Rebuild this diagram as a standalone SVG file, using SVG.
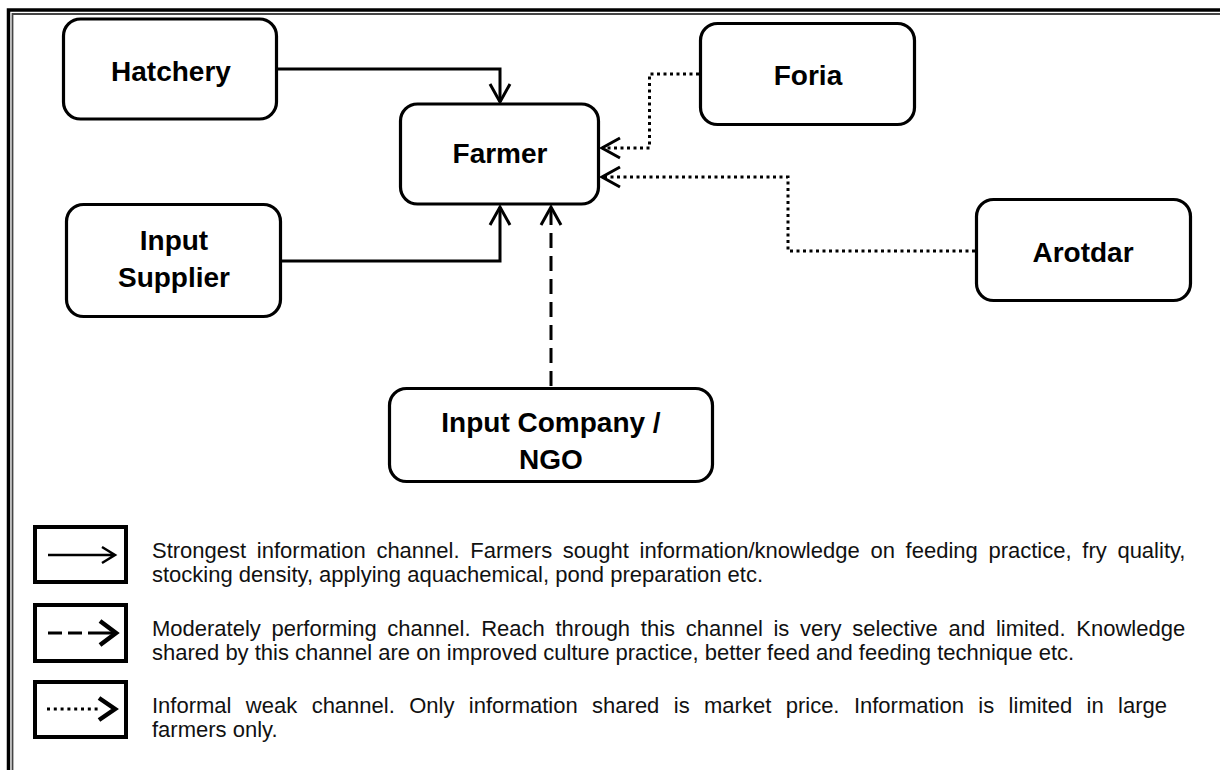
<svg xmlns="http://www.w3.org/2000/svg" width="1220" height="770" viewBox="0 0 1220 770">
<style>
.node{fill:#fff;stroke:#000;stroke-width:3.2}
.lbl{font-family:"Liberation Sans",Arial,sans-serif;font-weight:bold;font-size:28px;fill:#000;text-anchor:middle}
.conn{fill:none;stroke:#000;stroke-width:3}
.solid{marker-end:url(#arr)}
.dash{stroke-dasharray:15 8;marker-end:url(#arr)}
.dot{stroke-dasharray:3 3.5;marker-end:url(#arr)}
.lgbox{fill:#fff;stroke:#000;stroke-width:4}
.lgtxt{font-family:"Liberation Sans",Arial,sans-serif;font-size:22px;fill:#111}
</style>
<defs>
<marker id="arr" viewBox="-22 -13 26 26" refX="0" refY="0" markerWidth="26" markerHeight="26" orient="auto" markerUnits="userSpaceOnUse">
<path d="M-18,-10 L0,0 L-18,10" fill="none" stroke="#000" stroke-width="3"/>
</marker>
</defs>
<rect width="1220" height="770" fill="#fff"/>
<g id="frame">
<path d="M8.5,770 V10 H1220" fill="none" stroke="#000" stroke-width="3.5"/>
<path d="M12.5,770 V14 H1220" fill="none" stroke="#444" stroke-width="1.8"/>
</g>
<g id="connectors">
<path class="conn solid" d="M277,69 H500 V102"/>
<path class="conn solid" d="M281,261 H500 V207"/>
<path class="conn dash" d="M551,386 V207"/>
<path class="conn dot" d="M699,74 H649.5 V148 H602"/>
<path class="conn dot" d="M975,251 H788 V177 H602"/>
</g>
<g id="hatchery">
<rect class="node" x="63.5" y="19" width="213" height="100" rx="17"/>
<text class="lbl" x="171" y="81">Hatchery</text>
</g>
<g id="farmer">
<rect class="node" x="400.5" y="104" width="198" height="100" rx="17"/>
<text class="lbl" x="500" y="163">Farmer</text>
</g>
<g id="foria">
<rect class="node" x="700.5" y="23.5" width="214" height="101" rx="17"/>
<text class="lbl" x="808" y="85">Foria</text>
</g>
<g id="arotdar">
<rect class="node" x="976.5" y="199.5" width="214" height="101" rx="17"/>
<text class="lbl" x="1083" y="262">Arotdar</text>
</g>
<g id="input-supplier">
<rect class="node" x="66.5" y="204.5" width="214" height="112" rx="17"/>
<text class="lbl" x="174" y="250">Input</text>
<text class="lbl" x="174" y="287">Supplier</text>
</g>
<g id="input-company">
<rect class="node" x="389.5" y="388.5" width="323" height="93" rx="17"/>
<text class="lbl" x="551" y="432">Input Company /</text>
<text class="lbl" x="551" y="469">NGO</text>
</g>
<g id="legend">
<rect class="lgbox" x="35" y="527" width="91" height="55"/>
<path d="M48,555 H115 M102,547 L115,555 L102,563" fill="none" stroke="#000" stroke-width="2.5"/>
<rect class="lgbox" x="35" y="605" width="91" height="56"/>
<path d="M48,633 H62 M68,633 H82 M88,633 H114" fill="none" stroke="#000" stroke-width="3"/>
<path d="M100,621 L116,633 L100,645" fill="none" stroke="#000" stroke-width="4.5"/>
<rect class="lgbox" x="35" y="682" width="91" height="55"/>
<path d="M47,709 H100" fill="none" stroke="#000" stroke-width="3" stroke-dasharray="3 3.8"/>
<path d="M99,698 L115,709 L99,720" fill="none" stroke="#000" stroke-width="4.5"/>
<text class="lgtxt" x="152" y="558" word-spacing="4.58">Strongest information channel. Farmers sought information/knowledge on feeding practice, fry quality,</text>
<text class="lgtxt" x="152" y="582">stocking density, applying aquachemical, pond preparation etc.</text>
<text class="lgtxt" x="152" y="636" word-spacing="4.57">Moderately performing channel. Reach through this channel is very selective and limited. Knowledge</text>
<text class="lgtxt" x="152" y="660">shared by this channel are on improved culture practice, better feed and feeding technique etc.</text>
<text class="lgtxt" x="152" y="713" word-spacing="8.29">Informal weak channel. Only information shared is market price. Information is limited in large</text>
<text class="lgtxt" x="152" y="737">farmers only.</text>
</g>
</svg>
